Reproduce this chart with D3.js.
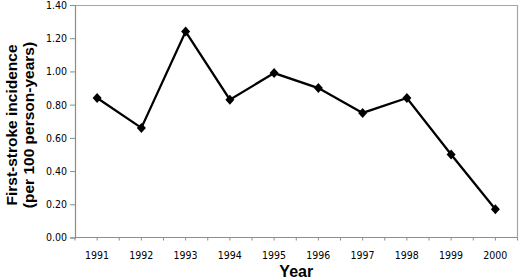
<!DOCTYPE html>
<html><head><meta charset="utf-8">
<script src="https://cdn.jsdelivr.net/npm/d3@7"></script>
<style>body{margin:0;background:#fff}svg{display:block}</style>
</head><body>
<svg id="c" width="520" height="280"></svg>
<script>
const years = ["1991","1992","1993","1994","1995","1996","1997","1998","1999","2000"];
const incidence = [0.84,0.66,1.24,0.83,0.99,0.90,0.75,0.84,0.50,0.17];
const yTicks = [0,0.2,0.4,0.6,0.8,1.0,1.2,1.4];

const svg = d3.select("#c");
const L=75, R=517.5, T=5, B=237.5;
const x = d3.scaleBand().domain(years).range([L,R]);
const y = d3.scaleLinear().domain([0,1.4]).range([B,T]);
const tickFont = "'DejaVu Sans Condensed','DejaVu Sans',sans-serif";

// plot border (top/right)
svg.append("path").attr("d",`M${L},${T+0.5}H${R}V${B}`).attr("fill","none").attr("stroke","#a6a6a6").attr("stroke-width",1.2);

// y axis
const ya = svg.append("g").attr("transform",`translate(${L},0)`)
  .call(d3.axisLeft(y).tickValues(yTicks).tickFormat(d3.format(".2f")).tickSize(5).tickPadding(3));
ya.select(".domain").attr("stroke","#8c8c8c").attr("stroke-width",1.2);
ya.selectAll(".tick line").attr("stroke","#8c8c8c");
ya.selectAll("text").attr("font-family",tickFont).attr("font-size","10.5px").attr("fill","#000");

// x axis: ticks at every half band
const xa = svg.append("g").attr("transform",`translate(0,${B})`);
xa.append("line").attr("x1",L).attr("x2",R).attr("stroke","#8c8c8c").attr("stroke-width",1.2);
const half = d3.range(0,years.length*2+1).map(i=>L+i*x.bandwidth()/2);
xa.selectAll("line.t").data(half).join("line").attr("class","t")
  .attr("x1",d=>d).attr("x2",d=>d).attr("y1",0).attr("y2",3).attr("stroke","#8c8c8c");
xa.selectAll("text").data(years).join("text")
  .attr("x",d=>x(d)+x.bandwidth()/2).attr("y",21).attr("text-anchor","middle")
  .attr("font-family",tickFont).attr("font-size","10.5px").text(d=>d);

// line
const line = d3.line().x((d,i)=>x(years[i])+x.bandwidth()/2).y(d=>y(d));
svg.append("path").datum(incidence).attr("d",line).attr("fill","none").attr("stroke","#000").attr("stroke-width",2.3).attr("stroke-linejoin","miter");

// diamond markers
svg.selectAll("path.m").data(incidence).join("path").attr("class","m")
  .attr("transform",(d,i)=>`translate(${x(years[i])+x.bandwidth()/2},${y(d)})`)
  .attr("d","M0,-5L4.5,0L0,5L-4.5,0Z").attr("fill","#000");

// titles
const titleFont = "'Liberation Sans',Arial,sans-serif";
svg.append("text").attr("x",(L+R)/2).attr("y",277).attr("text-anchor","middle")
  .attr("font-family",titleFont).attr("font-weight","bold").attr("font-size","16px").text("Year");
const yt = svg.append("text").attr("transform","translate(0,125) rotate(-90)")
  .attr("text-anchor","middle").attr("font-family",titleFont).attr("font-weight","bold").attr("font-size","15.5px");
yt.append("tspan").attr("x",0).attr("y",17).text("First-stroke incidence");
yt.append("tspan").attr("x",0).attr("y",34).text("(per 100 person-years)");
</script>
</body></html>
